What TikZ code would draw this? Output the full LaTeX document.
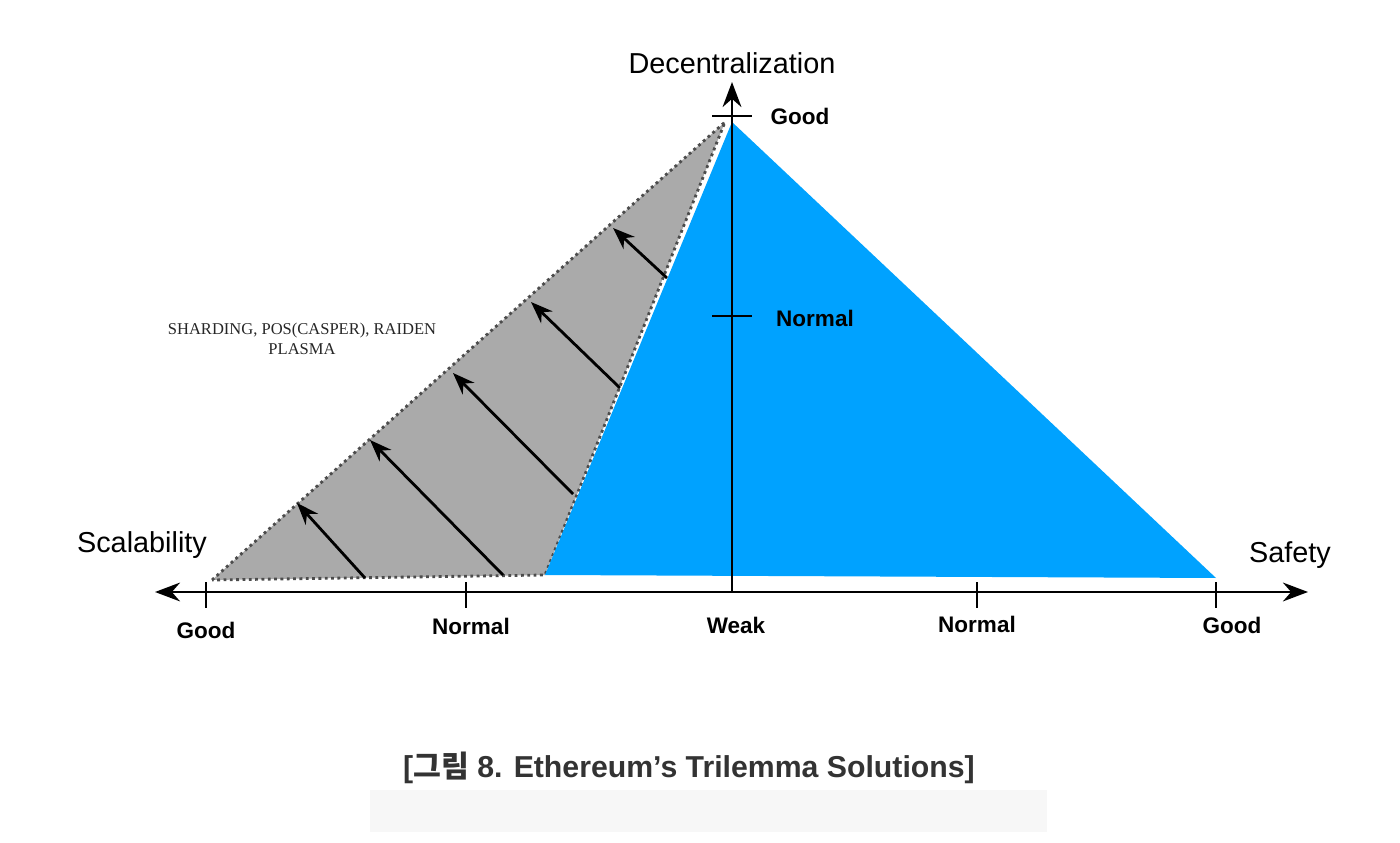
\documentclass[tikz,border=0pt]{standalone}
\usepackage{fontspec}
\setmainfont{Liberation Sans}
\newfontfamily\serifface{Liberation Serif}
\newfontfamily\cjk{Noto Sans CJK KR}
\usetikzlibrary{positioning, arrows.meta}
\definecolor{skyblue}{HTML}{00A2FF}
\definecolor{shadegray}{HTML}{AAAAAA}
\definecolor{captiongray}{HTML}{333333}
\tikzset{
  axislabel/.style={font=\fontsize{8.2}{9}\selectfont},
  ticklabel/.style={font=\bfseries\fontsize{6.4}{7}\selectfont},
  axis/.style={thick, -{Stealth[length=2.5mm]}},
  push/.style={thick, -{Stealth[length=2.2mm]}}
}
\begin{document}
\begin{tikzpicture}[x=0.01cm, y=-0.01cm]
  \useasboundingbox (0,0) rectangle (1400,843);
  \fill[black!3] (370,790) rectangle (1047,832);

  % corners of the two triangles
  \coordinate (top) at (732,122);
  \coordinate (gtop) at (725,122);
  \coordinate (mid) at (545,575);
  \coordinate (left) at (212,580);
  \coordinate (right) at (1216,578);

  \fill[shadegray] (left) -- (gtop) -- (mid) -- cycle;
  \draw[densely dotted, black!70, thick] (left) -- (gtop) -- (mid) -- cycle;
  \fill[skyblue] (top) -- (mid) -- (right) -- cycle;

  % axes
  \coordinate (o) at (732,592);
  \coordinate (xl) at (155,592); \coordinate (xr) at (1308,592);
  \coordinate (yt) at (732,82);
  \draw[axis] (o) -- (xl);
  \draw[axis] (o) -- (xr);
  \draw[axis] (o) -- (yt);
  \foreach \x in {206,466,977,1216} \draw[thick] (\x,582) -- (\x,608);
  \foreach \y in {116,316} \draw[thick] (712,\y) -- (752,\y);

  % arrows pushing the gray side
  \foreach \sx/\sy/\ex/\ey in {365/578/297/503, 503/575/370/440,
      573/494/453/373, 620/388/531/302, 667/278/613/228}
    \draw[push] (\sx,\sy) -- (\ex,\ey);

  % labels
  \node[axislabel] (dec) at (732,63) {Decentralization};
  \node[axislabel] (sca) at (142,545) {Scalability};
  \node[axislabel] (saf) at (1290,555) {Safety};
  \node[ticklabel] (dgood) at (800,116) {Good};
  \node[ticklabel] (dnorm) at (815,318) {Normal};
  \node[ticklabel] (sgood) at (206,630) {Good};
  \node[ticklabel] (snorm) at (471,626) {Normal};
  \node[ticklabel] (weak) at (736,625) {Weak};
  \node[ticklabel] (fnorm) at (977,624) {Normal};
  \node[ticklabel] (fgood) at (1232,625) {Good};
  \node[font=\serifface\fontsize{4.7}{5.5}\selectfont, black!85, align=center]
    (sol) at (302,339) {SHARDING, POS(CASPER), RAIDEN\\PLASMA};

  \node[font=\bfseries\fontsize{8.6}{10}\selectfont, text=captiongray]
    (cap) at (689,768) {[{\cjk\bfseries 그림} 8. Ethereum’s Trilemma Solutions]};
\end{tikzpicture}
\end{document}
